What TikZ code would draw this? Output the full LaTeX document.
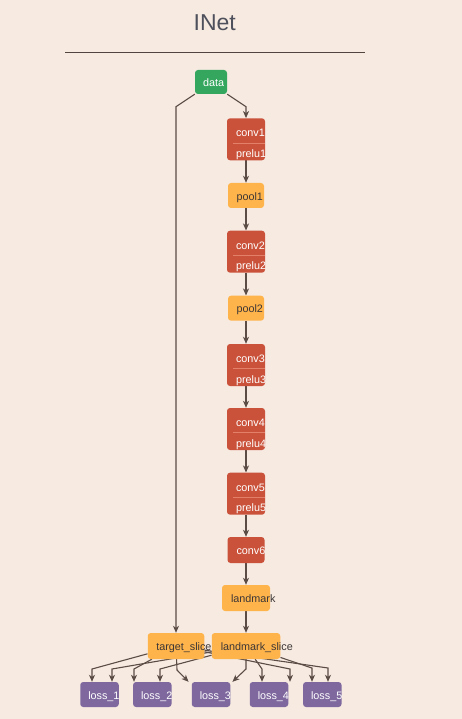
\documentclass[tikz,border=0pt]{standalone}
\usepackage{fontspec}
\setmainfont{Liberation Sans}
\usetikzlibrary{calc,arrows.meta}
\definecolor{bgc}{RGB}{246,234,225}
\definecolor{greenc}{RGB}{52,166,94}
\definecolor{redc}{RGB}{202,82,58}
\definecolor{orangec}{RGB}{255,180,75}
\definecolor{purplec}{RGB}{126,104,158}
\definecolor{edgec}{RGB}{92,76,70}
\definecolor{divc}{RGB}{226,128,106}
\definecolor{titlec}{RGB}{78,80,92}
\definecolor{darktxt}{RGB}{60,54,54}
\pgfdeclarelayer{bglayer}
\pgfdeclarelayer{edges}
\pgfsetlayers{bglayer,edges,main}
\tikzset{
  box/.style={rounded corners=3pt, inner sep=0pt, draw=none},
  convbox/.style={box, fill=redc, minimum width=38pt, minimum height=42pt},
  poolbox/.style={box, fill=orangec, minimum width=36pt, minimum height=25pt},
  databox/.style={box, fill=greenc, minimum width=32pt, minimum height=24pt},
  lossbox/.style={box, fill=purplec, minimum width=38.5pt, minimum height=25pt},
  txt/.style={anchor=west, inner sep=0pt, font=\fontsize{10.8pt}{12pt}\selectfont, text height=7.6pt, text depth=2.2pt},
  wtxt/.style={txt, text=white},
  dtxt/.style={txt, text=darktxt},
  divider/.style={draw=divc, line width=0.8pt},
  edge/.style={draw=edgec, line width=1.1pt, -{Stealth[length=7pt,width=6pt,inset=2pt]}},
}
\newcommand\convblock[3]{%
  \node[convbox] (#1) at (246,#2+21) {};
  \draw[divider] ($(#1.north west)+(6,25)$) -- ($(#1.north east)+(0,25)$);
  \node[wtxt] (#1a) at ($(#1.north west)+(9,16)$) {conv#3};
  \node[wtxt] (#1b) at ($(#1.north west)+(9,36.5)$) {prelu#3};
}
\begin{document}
\begin{tikzpicture}[x=1pt,y=-1pt]
\begin{pgfonlayer}{bglayer}
\fill[bgc] (0,0) rectangle (462,719);
\end{pgfonlayer}
\useasboundingbox (0,0) rectangle (462,719);
% title
\node[inner sep=0pt, text=titlec, font=\fontsize{23pt}{26pt}\selectfont] (title) at (214.7,23) {INet};
\draw[draw=edgec!90!black, line width=1pt] (65,52.7) coordinate (tl) -- (365,52.7) coordinate (tr);
% nodes
\node[databox] (data) at (211,82) {};
\node[wtxt] (datat) at ($(data.west)+(8,2)$) {data};
\convblock{conv1}{118.3}{1}
\node[poolbox] (pool1) at (246,195.5) {};
\node[dtxt] (pool1t) at ($(pool1.west)+(8.5,2)$) {pool1};
\convblock{conv2}{230.7}{2}
\node[poolbox] (pool2) at (246,308.2) {};
\node[dtxt] (pool2t) at ($(pool2.west)+(8.5,2)$) {pool2};
\convblock{conv3}{344}{3}
\convblock{conv4}{408}{4}
\convblock{conv5}{472.7}{5}
\node[box, fill=redc, minimum width=37pt, minimum height=26pt] (conv6) at (246,550) {};
\node[wtxt] (conv6t) at ($(conv6.west)+(9,2)$) {conv6};
\node[box, fill=orangec, minimum width=48pt, minimum height=26pt] (landmark) at (246,598) {};
\node[dtxt] (landmarkt) at ($(landmark.west)+(9,2)$) {landmark};
\node[box, fill=orangec, minimum width=56.5pt, minimum height=26pt] (ts) at (176,646) {};
\node[dtxt] (tst) at ($(ts.west)+(8.5,2)$) {target\_slice};
\node[box, fill=orangec, minimum width=68.5pt, minimum height=26pt] (ls) at (246,646) {};
\node[dtxt] (lst) at ($(ls.west)+(9,2)$) {landmark\_slice};
\node[lossbox] (l1) at (99.5,694.5) {};
\node[wtxt] (l1t) at ($(l1.west)+(8,2)$) {loss\_1};
\node[lossbox] (l2) at (152.3,694.5) {};
\node[wtxt] (l2t) at ($(l2.west)+(8,2)$) {loss\_2};
\node[lossbox] (l3) at (211,694.5) {};
\node[wtxt] (l3t) at ($(l3.west)+(8,2)$) {loss\_3};
\node[lossbox] (l4) at (269,694.5) {};
\node[wtxt] (l4t) at ($(l4.west)+(8,2)$) {loss\_4};
\node[lossbox] (l5) at (322.3,694.5) {};
\node[wtxt] (l5t) at ($(l5.west)+(8,2)$) {loss\_5};
% edges
\begin{pgfonlayer}{edges}
\coordinate (dL) at (176,106.7);
\coordinate (dR) at (246,106.7);
\draw[edge] (data.south west) -- (dL) -- (dL |- ts.north);
\draw[edge] (data.south east) -- (dR) -- (conv1.north);
\draw[edge] (conv1.south) -- (pool1.north);
\draw[edge] (pool1.south) -- (conv2.north);
\draw[edge] (conv2.south) -- (pool2.north);
\draw[edge] (pool2.south) -- (conv3.north);
\draw[edge] (conv3.south) -- (conv4.north);
\draw[edge] (conv4.south) -- (conv5.north);
\draw[edge] (conv5.south) -- (conv6.north);
\draw[edge] (conv6.south) -- (landmark.north);
\draw[edge] (landmark.south) -- (ls.north);
% target_slice -> losses
\coordinate (t1) at (92,669);
\coordinate (t2) at (134,669);
\coordinate (t3) at (177,670);
\coordinate (t4) at (290,669);
\coordinate (t5) at (328,668);
\draw[edge] (ts) -- (t1) -- (t1 |- l1.north);
\draw[edge] (ts) -- (t2) -- (t2 |- l2.north);
\draw[edge] (ts) -- (t3) -- ($(l3.north west)+(-3,0)$);
\draw[edge] (ts) -- (t4) -- (t4 |- l4.north);
\draw[edge] (ts) -- (t5) -- (t5 |- l5.north);
% landmark_slice -> losses
\coordinate (m1) at (112,669);
\coordinate (m2) at (160,669);
\coordinate (m3) at (246,669);
\coordinate (m4) at (262,669);
\coordinate (m5) at (312,668);
\draw[edge] (ls) -- (m1) -- (m1 |- l1.north);
\draw[edge] (ls) -- (m2) -- (m2 |- l2.north);
\draw[edge] (ls) -- (m3) -- ($(l3.north east)+(2,0)$);
\draw[edge] (ls) -- (m4) -- (m4 |- l4.north);
\draw[edge] (ls) -- (m5) -- (m5 |- l5.north);
\end{pgfonlayer}
\end{tikzpicture}
\end{document}
